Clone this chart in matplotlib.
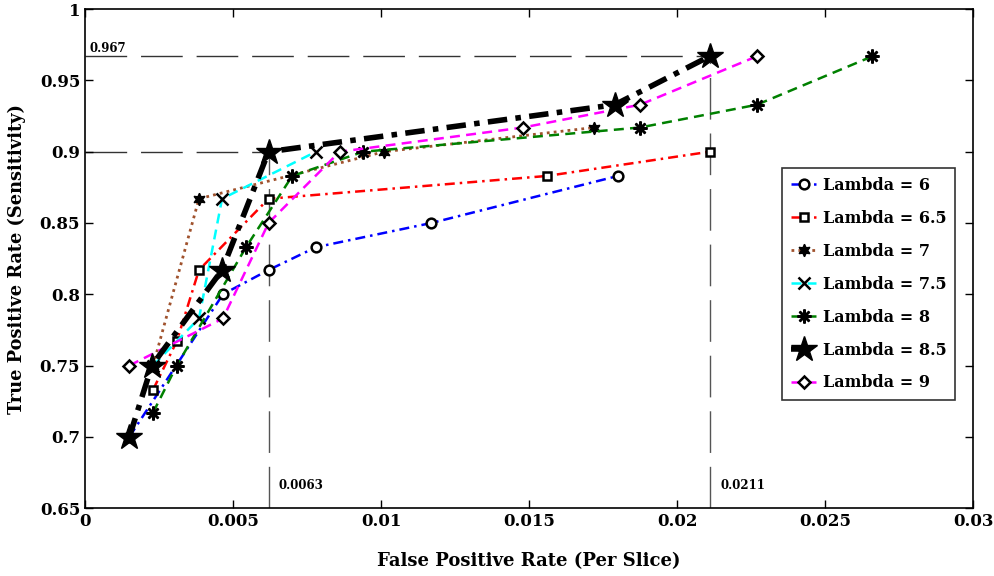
import matplotlib
matplotlib.use("Agg")
import matplotlib.pyplot as plt

plt.rcParams['font.family'] = ['DejaVu Serif']
plt.rcParams['font.weight'] = 'bold'

labels = ['Lambda = 6', 'Lambda = 6.5', 'Lambda = 7', 'Lambda = 7.5',
          'Lambda = 8', 'Lambda = 8.5', 'Lambda = 9']

fpr_6 = [0.0015, 0.00466, 0.0062, 0.0078, 0.0117, 0.0180]
tpr_6 = [0.700, 0.800, 0.817, 0.833, 0.850, 0.883]

fpr_65 = [0.0023, 0.0031, 0.00385, 0.0062, 0.0156, 0.0211]
tpr_65 = [0.733, 0.767, 0.817, 0.867, 0.883, 0.900]

fpr_7 = [0.0023, 0.00385, 0.0101, 0.0172]
tpr_7 = [0.750, 0.867, 0.900, 0.917]

fpr_75 = [0.0023, 0.00385, 0.00463, 0.0078]
tpr_75 = [0.750, 0.783, 0.867, 0.900]

fpr_8 = [0.0023, 0.0031, 0.00544, 0.0070, 0.0094, 0.01875, 0.0227, 0.0266]
tpr_8 = [0.717, 0.750, 0.833, 0.883, 0.900, 0.917, 0.933, 0.967]

fpr_85 = [0.0015, 0.00226, 0.00463, 0.0062, 0.0179, 0.0211]
tpr_85 = [0.700, 0.750, 0.817, 0.900, 0.933, 0.967]

fpr_9 = [0.0015, 0.00466, 0.0062, 0.0086, 0.0148, 0.01875, 0.0227]
tpr_9 = [0.750, 0.783, 0.850, 0.900, 0.917, 0.933, 0.967]

ref_tpr = [0.967, 0.900]
ref_fpr = [0.0211, 0.0062]
ref_tpr_label = '0.967'
ref_fpr_labels = ['0.0063', '0.0211']

xticks = [0, 0.005, 0.01, 0.015, 0.02, 0.025, 0.03]
xticklabels = ['0', '0.005', '0.01', '0.015', '0.02', '0.025', '0.03']
yticks = [0.65, 0.7, 0.75, 0.8, 0.85, 0.9, 0.95, 1.0]
yticklabels = ['0.65', '0.7', '0.75', '0.8', '0.85', '0.9', '0.95', '1']

fig = plt.figure(figsize=(9.94, 5.76), dpi=100)
ax = fig.add_axes([0.0855, 0.118, 0.8935, 0.866])

ref_col = '#555555'
dash = (0, (30, 10))
# reference lines
ax.plot([0, ref_fpr[0]], [ref_tpr[0], ref_tpr[0]], color='#333333', lw=1, linestyle=dash, zorder=1)
ax.plot([0, ref_fpr[1]], [ref_tpr[1], ref_tpr[1]], color='#333333', lw=1, linestyle=dash, zorder=1)
ax.plot([ref_fpr[1], ref_fpr[1]], [0.65, ref_tpr[1]], color=ref_col, lw=1, linestyle=dash, zorder=1)
ax.plot([ref_fpr[0], ref_fpr[0]], [0.65, ref_tpr[0]], color=ref_col, lw=1, linestyle=dash, zorder=1)

ax.text(0.00015, 0.9727, ref_tpr_label, fontsize=8.5, fontweight='bold', va='center')
ax.text(ref_fpr[1] + 0.00035, 0.6655, ref_fpr_labels[0], fontsize=8.5, fontweight='bold', va='center')
ax.text(ref_fpr[0] + 0.00035, 0.6655, ref_fpr_labels[1], fontsize=8.5, fontweight='bold', va='center')

asterisk = (8, 2, 0)
hexagram = (6, 1, 0)

ax.plot(fpr_6, tpr_6, color='blue', linestyle=(0, (4, 2, 1, 2)), lw=1.8,
        marker='o', ms=7, mfc='white', mec='black', mew=1.8, label=labels[0], zorder=3)
ax.plot(fpr_65, tpr_65, color='red', linestyle=(0, (4, 2, 1, 2)), lw=1.8,
        marker='s', ms=6, mfc='white', mec='black', mew=1.8, label=labels[1], zorder=3)
ax.plot(fpr_7, tpr_7, color='#A0522D', linestyle=(0, (1, 1.5)), lw=2,
        marker=hexagram, ms=9, mfc='black', mec='black', mew=1, label=labels[2], zorder=3)
ax.plot(fpr_75, tpr_75, color='cyan', linestyle=(0, (4, 2.5)), lw=1.8,
        marker='x', ms=9, mfc='black', mec='black', mew=1.8, label=labels[3], zorder=3)
ax.plot(fpr_8, tpr_8, color='green', linestyle=(0, (4, 2.5)), lw=1.8,
        marker=asterisk, ms=10, mfc='black', mec='black', mew=1.8, label=labels[4], zorder=3)
ax.plot(fpr_85, tpr_85, color='black', linestyle=(0, (3.5, 1.5, 1, 1.5)), lw=4,
        marker='*', ms=19, mfc='black', mec='black', mew=1, label=labels[5], zorder=4)
ax.plot(fpr_9, tpr_9, color='magenta', linestyle=(0, (4, 2.5)), lw=1.8,
        marker='D', ms=6, mfc='white', mec='black', mew=1.8, label=labels[6], zorder=3)

ax.set_xlim(0, 0.03)
ax.set_ylim(0.65, 1.0)
ax.set_xticks(xticks)
ax.set_xticklabels(xticklabels, fontsize=12, fontweight='bold')
ax.set_yticks(yticks)
ax.set_yticklabels(yticklabels, fontsize=12, fontweight='bold')
ax.tick_params(direction='in', top=True, right=True, length=6, width=1)
for s in ax.spines.values():
    s.set_linewidth(1.2)

ax.set_xlabel('False Positive Rate (Per Slice)', fontsize=13, fontweight='bold', labelpad=16)
ax.set_ylabel('True Positive Rate (Sensitivity)', fontsize=12.8, fontweight='bold', labelpad=10)

leg = ax.legend(loc='center right', bbox_to_anchor=(0.98, 0.449),
                prop={'weight': 'bold', 'size': 11.5}, frameon=True, fancybox=False,
                edgecolor='black', handlelength=1.6, handletextpad=0.4,
                labelspacing=1.0, borderpad=0.55, borderaxespad=0)
leg.get_frame().set_linewidth(1.2)

fig.savefig('out.png', dpi=100)
